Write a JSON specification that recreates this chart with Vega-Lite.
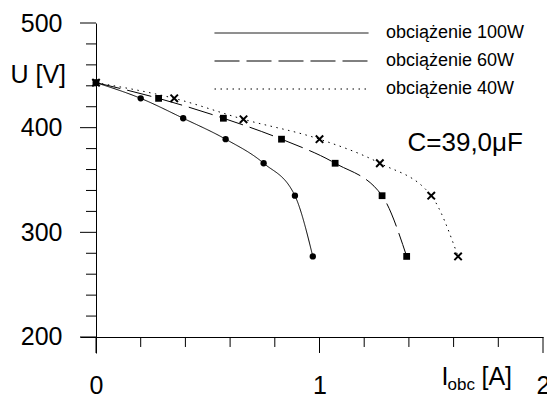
{
  "$schema": "https://vega.github.io/schema/vega-lite/v6.json",
  "width": 463,
  "height": 330,
  "autosize": {"type": "none"},
  "padding": {"left": 80, "top": 23, "right": 4, "bottom": 41},
  "background": "white",
  "config": {
    "view": {"stroke": null},
    "font": "Liberation Sans",
    "axis": {"grid": false, "domainColor": "black", "labelColor": "black", "titleColor": "black", "titleFontWeight": "normal", "domainWidth": 1}
  },
  "datasets": {
    "curves": [
      {"s": "obciążenie 100W", "I": 0, "U": 443},
      {"s": "obciążenie 100W", "I": 0.2, "U": 428},
      {"s": "obciążenie 100W", "I": 0.39, "U": 409},
      {"s": "obciążenie 100W", "I": 0.58, "U": 389},
      {"s": "obciążenie 100W", "I": 0.75, "U": 366},
      {"s": "obciążenie 100W", "I": 0.89, "U": 335},
      {"s": "obciążenie 100W", "I": 0.97, "U": 277},
      {"s": "obciążenie 60W", "I": 0, "U": 443},
      {"s": "obciążenie 60W", "I": 0.28, "U": 428},
      {"s": "obciążenie 60W", "I": 0.57, "U": 409},
      {"s": "obciążenie 60W", "I": 0.83, "U": 389},
      {"s": "obciążenie 60W", "I": 1.07, "U": 366},
      {"s": "obciążenie 60W", "I": 1.28, "U": 335},
      {"s": "obciążenie 60W", "I": 1.39, "U": 277},
      {"s": "obciążenie 40W", "I": 0, "U": 443},
      {"s": "obciążenie 40W", "I": 0.35, "U": 428},
      {"s": "obciążenie 40W", "I": 0.66, "U": 408},
      {"s": "obciążenie 40W", "I": 1.0, "U": 389},
      {"s": "obciążenie 40W", "I": 1.27, "U": 366},
      {"s": "obciążenie 40W", "I": 1.5, "U": 335},
      {"s": "obciążenie 40W", "I": 1.62, "U": 277}
    ],
    "xmajor": [{"v": 0}, {"v": 1}, {"v": 2}],
    "xminor": [{"v": 0.2}, {"v": 0.4}, {"v": 0.6}, {"v": 0.8}, {"v": 1.2}, {"v": 1.4}, {"v": 1.6}, {"v": 1.8}],
    "ymajor": [{"v": 200}, {"v": 300}, {"v": 400}, {"v": 500}],
    "yminor": [{"v": 220}, {"v": 240}, {"v": 260}, {"v": 280}, {"v": 320}, {"v": 340}, {"v": 360}, {"v": 380}, {"v": 420}, {"v": 440}, {"v": 460}, {"v": 480}]
  },
  "data": {"name": "curves"},
  "resolve": {"axis": {"x": "independent", "y": "independent"}},
  "layer": [
    {
      "mark": {"type": "line", "interpolate": "monotone", "color": "black", "strokeWidth": 1},
      "encoding": {
        "x": {
          "field": "I", "type": "quantitative",
          "scale": {"domain": [-0.0716, 2], "nice": false, "zero": false},
          "axis": {
            "orient": "bottom", "offset": -16,
            "values": [0, 1, 2],
            "ticks": false,
            "labelExpr": "format(datum.value, 'd')",
            "labelFontSize": 25, "labelPadding": 36, "labelBaseline": "top",
            "labelFlush": false, "labelOverlap": false,
            "title": "I", "titleFontSize": 25, "titleX": 361, "titleY": 47,
            "titleAlign": "left", "titleBaseline": "alphabetic"
          }
        },
        "y": {
          "field": "U", "type": "quantitative",
          "scale": {"domain": [184.713, 500], "nice": false, "zero": false},
          "axis": {
            "orient": "left", "offset": -16,
            "values": [200, 300, 400, 500],
            "ticks": false,
            "labelExpr": "format(datum.value, 'd')",
            "labelFontSize": 25, "labelPadding": 34, "labelBaseline": "middle",
            "labelOverlap": false, "labelFlush": false,
            "title": "U [V]", "titleAngle": 0, "titleFontSize": 25, "titleX": -86, "titleY": 51,
            "titleAlign": "left", "titleBaseline": "middle"
          }
        },
        "strokeDash": {
          "field": "s", "type": "nominal",
          "scale": {"domain": ["obciążenie 100W", "obciążenie 60W", "obciążenie 40W"], "range": [[1, 0], [25, 7], [1.5, 4.5]]},
          "legend": {
            "orient": "none", "legendX": 134, "legendY": -4, "title": null,
            "symbolType": "stroke", "symbolSize": 23716, "symbolStrokeColor": "black", "symbolStrokeWidth": 1,
            "clipHeight": 28, "rowPadding": 0, "padding": 0,
            "labelFontSize": 18, "labelOffset": 17, "labelColor": "black", "labelLimit": 300
          }
        }
      }
    },
    {
      "transform": [{"filter": "datum.s === 'obciążenie 100W'"}],
      "mark": {"type": "point", "shape": "circle", "filled": true, "color": "black", "opacity": 1, "size": 40},
      "encoding": {
        "x": {
          "field": "I", "type": "quantitative",
          "scale": {"domain": [-0.0716, 2], "nice": false, "zero": false},
          "axis": {
            "orient": "bottom", "offset": -16, "domain": false, "labels": false, "ticks": false,
            "title": "obc", "titleFontSize": 17, "titleX": 367, "titleY": 52,
            "titleAlign": "left", "titleBaseline": "alphabetic"
          }
        },
        "y": {
          "field": "U", "type": "quantitative",
          "scale": {"domain": [184.713, 500], "nice": false, "zero": false},
          "axis": {
            "orient": "left", "offset": -16, "domain": false, "labels": false, "ticks": false,
            "title": "C=39,0μF", "titleAngle": 0, "titleFontSize": 26, "titleX": 311, "titleY": 127,
            "titleAlign": "left", "titleBaseline": "alphabetic"
          }
        }
      }
    },
    {
      "transform": [{"filter": "datum.s === 'obciążenie 60W'"}],
      "mark": {"type": "point", "shape": "square", "filled": true, "color": "black", "opacity": 1, "size": 46},
      "encoding": {
        "x": {
          "field": "I", "type": "quantitative",
          "scale": {"domain": [-0.0716, 2], "nice": false, "zero": false},
          "axis": {
            "orient": "bottom", "offset": -16, "domain": false, "ticks": false, "labels": false,
            "title": "[A]", "titleFontSize": 25, "titleX": 401, "titleY": 47,
            "titleAlign": "left", "titleBaseline": "alphabetic"
          }
        },
        "y": {"field": "U", "type": "quantitative", "scale": {"domain": [184.713, 500], "nice": false, "zero": false}, "axis": null}
      }
    },
    {
      "transform": [{"filter": "datum.s === 'obciążenie 40W'"}],
      "mark": {"type": "point", "shape": "M-1,-1L1,1M1,-1L-1,1", "filled": false, "stroke": "black", "strokeWidth": 2, "opacity": 1, "size": 55},
      "encoding": {
        "x": {"field": "I", "type": "quantitative", "scale": {"domain": [-0.0716, 2], "nice": false, "zero": false}, "axis": null},
        "y": {"field": "U", "type": "quantitative", "scale": {"domain": [184.713, 500], "nice": false, "zero": false}, "axis": null}
      }
    },
    {
      "data": {"name": "xmajor"},
      "mark": {"type": "point", "shape": "M0,0V1", "filled": false, "stroke": "black", "strokeWidth": 1, "opacity": 1, "size": 1024},
      "encoding": {
        "x": {"field": "v", "type": "quantitative", "scale": {"domain": [-0.0716, 2], "nice": false, "zero": false}, "axis": null},
        "y": {"datum": 200, "type": "quantitative", "scale": {"domain": [184.713, 500], "nice": false, "zero": false}, "axis": null}
      }
    },
    {
      "data": {"name": "xminor"},
      "mark": {"type": "point", "shape": "M0,0V1", "filled": false, "stroke": "black", "strokeWidth": 1, "opacity": 1, "size": 400},
      "encoding": {
        "x": {"field": "v", "type": "quantitative", "scale": {"domain": [-0.0716, 2], "nice": false, "zero": false}, "axis": null},
        "y": {"datum": 200, "type": "quantitative", "scale": {"domain": [184.713, 500], "nice": false, "zero": false}, "axis": null}
      }
    },
    {
      "data": {"name": "ymajor"},
      "mark": {"type": "point", "shape": "M0,0H-1", "filled": false, "stroke": "black", "strokeWidth": 1, "opacity": 1, "size": 1024},
      "encoding": {
        "y": {"field": "v", "type": "quantitative", "scale": {"domain": [184.713, 500], "nice": false, "zero": false}, "axis": null},
        "x": {"datum": 0, "type": "quantitative", "scale": {"domain": [-0.0716, 2], "nice": false, "zero": false}, "axis": null}
      }
    },
    {
      "data": {"name": "yminor"},
      "mark": {"type": "point", "shape": "M0,0H-1", "filled": false, "stroke": "black", "strokeWidth": 1, "opacity": 1, "size": 400},
      "encoding": {
        "y": {"field": "v", "type": "quantitative", "scale": {"domain": [184.713, 500], "nice": false, "zero": false}, "axis": null},
        "x": {"datum": 0, "type": "quantitative", "scale": {"domain": [-0.0716, 2], "nice": false, "zero": false}, "axis": null}
      }
    }
  ]
}
